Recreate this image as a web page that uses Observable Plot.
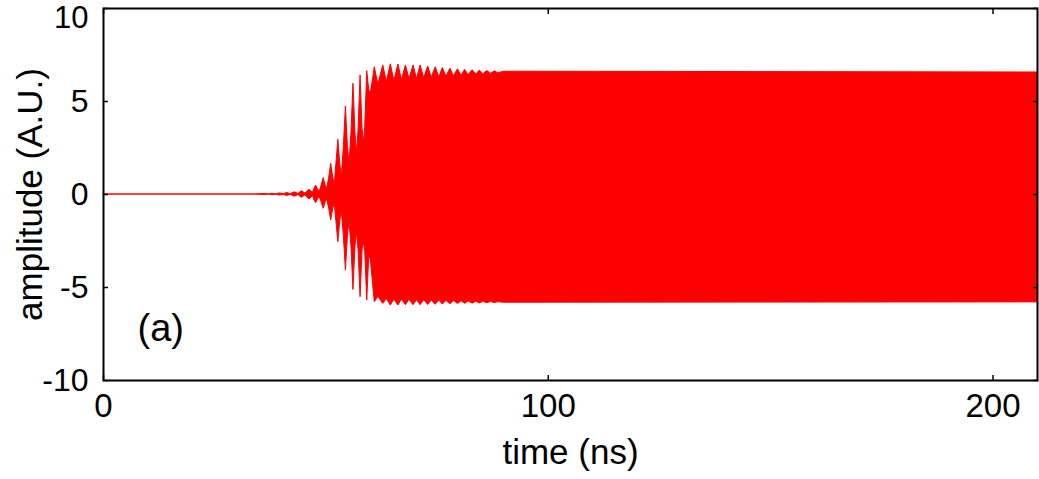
<!DOCTYPE html>
<html><head><meta charset="utf-8">
<script src="https://cdn.jsdelivr.net/npm/d3@7"></script>
<script src="https://cdn.jsdelivr.net/npm/@observablehq/plot@0.6"></script>
<style>
html,body{margin:0;padding:0;background:#fff;}
#chart svg{display:block;}
</style></head><body><div id="chart"></div>
<script>
// envelope of the oscillation (pulse peaks, needle shoulders and troughs)
const envTime = [0, 34, 36.4, 37.2, 38.0, 38.8, 39.7, 40.5, 41.3, 42.1, 43.0, 43.8, 44.6, 45.4, 46.3, 47.1,
  47.35, 47.8, 48.25, 48.6,
  49.05, 49.5, 49.95, 50.3,
  50.75, 51.2, 51.65, 52.0,
  52.35, 52.8, 53.25, 53.6,
  54.05, 54.5, 54.95, 55.3,
  55.75, 56.2, 56.65, 57.0,
  57.35, 57.8, 58.25, 58.6,
  58.85, 59.3, 59.75, 60.1,
  61.0, 61.8, 62.9, 63.7, 64.6, 65.4, 66.3, 67.1, 68.0, 68.8, 69.7, 70.5, 71.3, 72.1, 73.0, 73.8, 74.7, 75.5, 76.3, 77.1, 78.0, 78.8, 79.7, 80.5, 81.3, 82.1, 83.0, 83.8, 84.6, 85.4, 86.3, 87.1, 88.0, 88.8, 90.0, 210];
const envTop = [0, 0, 0.03, 0.005, 0.04, 0.01, 0.06, 0.015, 0.08, 0.02, 0.12, 0.03, 0.18, 0.05, 0.25, 0.08,
  0.26, 0.48, 0.26, 0.15,
  0.48, 0.88, 0.48, 0.3,
  0.9, 1.65, 0.9, 0.5,
  1.6, 2.94, 1.6, 1.0,
  2.6, 4.73, 2.6, 1.6,
  3.3, 5.95, 3.3, 2.2,
  3.5, 6.40, 3.5, 2.8,
  3.65, 6.63, 5.6, 5.4,
  6.84, 5.9, 6.94, 6.05, 7.0, 6.1, 6.99, 6.15, 6.94, 6.2, 6.94, 6.2, 6.94, 6.25, 6.88, 6.28, 6.84, 6.3, 6.80, 6.33, 6.76, 6.36, 6.73, 6.39, 6.70, 6.42, 6.68, 6.45, 6.66, 6.47, 6.64, 6.49, 6.62, 6.51, 6.60, 6.56];
const envBottom = [0, 0, -0.03, -0.005, -0.04, -0.01, -0.06, -0.015, -0.08, -0.02, -0.12, -0.03, -0.18, -0.05, -0.27, -0.08,
  -0.26, -0.47, -0.26, -0.14,
  -0.42, -0.77, -0.42, -0.28,
  -0.77, -1.40, -0.77, -0.45,
  -1.4, -2.56, -1.4, -0.9,
  -2.25, -4.09, -2.25, -1.4,
  -2.8, -5.13, -2.8, -2.0,
  -3.0, -5.52, -3.0, -2.6,
  -3.1, -5.70, -3.3, -3.5,
  -5.79, -5.5, -5.88, -5.62, -5.97, -5.66, -5.97, -5.66, -5.95, -5.66, -5.95, -5.68, -5.95, -5.68, -5.94, -5.70, -5.93, -5.70, -5.92, -5.72, -5.90, -5.72, -5.89, -5.74, -5.88, -5.75, -5.87, -5.76, -5.86, -5.77, -5.85, -5.78, -5.84, -5.79, -5.82, -5.80];
const xTicks = [0, 100, 200];
const yTicks = [-10, -5, 0, 5, 10];
const xLabel = "time (ns)";
const yLabel = "amplitude (A.U.)";
const panelLabel = "(a)";

const data = envTime.map((t, i) => ({t, top: envTop[i], bottom: envBottom[i]}));
const font = "'Liberation Sans', Arial, sans-serif";
const yMax = d3.max(yTicks);

const chart = Plot.plot({
  width: 1039, height: 479,
  marginLeft: 103, marginRight: 2, marginTop: 8, marginBottom: 99,
  style: {fontFamily: font, background: "white", color: "black"},
  x: {domain: [0, 210], axis: null},
  y: {domain: [-10, 10], axis: null},
  marks: [
    Plot.areaY(data, {x: "t", y1: "bottom", y2: "top", fill: "#ff0000", stroke: "#ff0000", strokeWidth: 1}),
    Plot.axisX(xTicks, {anchor: "bottom", tickSize: -5, strokeWidth: 1.5, tickFormat: () => "", label: null}),
    Plot.axisX(xTicks, {anchor: "top", tickSize: -5, strokeWidth: 1.5, tickFormat: () => "", label: null}),
    Plot.axisY(yTicks, {anchor: "left", tickSize: -5, strokeWidth: 1.5, tickFormat: () => "", label: null}),
    Plot.axisY(yTicks, {anchor: "right", tickSize: -5, strokeWidth: 1.5, tickFormat: () => "", label: null}),
    Plot.axisX(xTicks, {anchor: "bottom", tickSize: 0, tickPadding: 13, fontSize: 33, tickFormat: d => String(d), label: null}),
    Plot.axisY(yTicks.filter(d => d < yMax), {anchor: "left", tickSize: 0, tickPadding: 15, fontSize: 32, tickFormat: d => String(d), label: null}),
    Plot.axisY(yTicks.filter(d => d === yMax), {anchor: "left", tickSize: 0, tickPadding: 15, dy: 10, fontSize: 31, tickFormat: d => String(d), label: null}),
    Plot.frame({stroke: "black", strokeWidth: 2}),
    Plot.text([xLabel], {frameAnchor: "bottom", dy: 72, fontSize: 35, textAnchor: "middle", lineAnchor: "middle", fill: "black"}),
    Plot.text([yLabel], {frameAnchor: "left", dx: -73, rotate: -90, fontSize: 35, textAnchor: "middle", lineAnchor: "middle", fill: "black"}),
    Plot.text([panelLabel], {frameAnchor: "bottom-left", dx: 34, dy: -52, fontSize: 38, textAnchor: "start", lineAnchor: "middle", fill: "black"})
  ]
});
document.getElementById("chart").appendChild(chart);
</script>
</body></html>
